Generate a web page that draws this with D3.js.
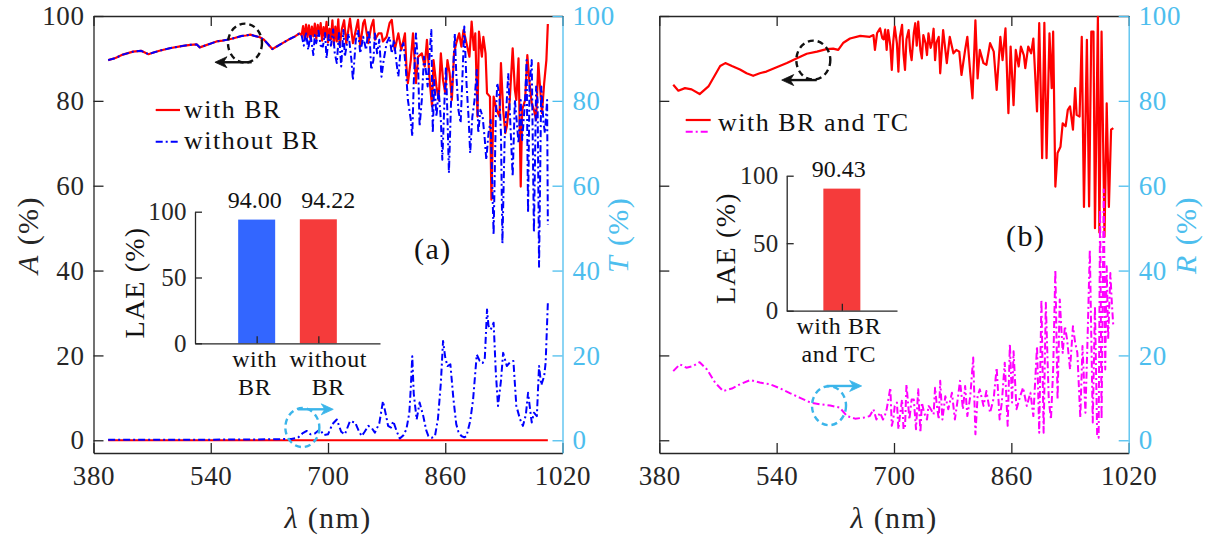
<!DOCTYPE html>
<html>
<head>
<meta charset="utf-8">
<script src="https://cdn.jsdelivr.net/npm/d3@7"></script>
<style>
  html, body { margin: 0; padding: 0; background: #fff; }
  svg text { font-family: "Liberation Serif", "DejaVu Serif", serif; }
</style>
</head>
<body>
<svg id="chart" width="1222" height="536" font-family="Liberation Serif, DejaVu Serif, serif"></svg>
<script>
// ---------- tick values ----------
const lambdaTicks = [380, 540, 700, 860, 1020];
const percentTicks = [0, 20, 40, 60, 80, 100];
const laeTicks = [0, 50, 100];

// ---------- panel (a): absorption A, shared smooth segment (both curves coincide) ----------
const lamA0 = [400, 410, 420, 434, 445, 455, 462, 470, 484, 500, 512, 521, 525, 530, 540, 548, 556, 562, 570, 576, 582, 588, 594, 600, 607, 612, 618, 624, 630, 638, 648, 655, 661];
const absA0 = [89.6, 90.1, 90.9, 91.6, 91.8, 91.0, 91.4, 91.8, 92.4, 92.9, 93.2, 93.3, 92.6, 92.9, 93.5, 94.0, 94.2, 94.4, 94.7, 95.0, 95.3, 95.4, 95.6, 95.3, 95.0, 94.5, 93.4, 92.2, 92.8, 93.6, 94.6, 95.2, 95.9];

// panel (a): A with BR, oscillating part
const lamWithBR = [664, 666, 668, 670, 672, 674, 676, 678, 680, 682, 684, 686, 688, 690, 692, 694, 696, 698, 700, 702, 704, 706, 708, 710, 712, 714, 716,
  719, 722, 725, 730, 734, 737, 741, 744, 748, 750, 755, 759, 762, 764, 769, 773, 775, 780, 784, 787, 789, 791, 796, 800, 805, 807, 809, 813, 816, 820,
  823, 828, 832, 835, 839, 842, 844, 848, 851, 854, 857, 860, 863, 866, 869, 872, 875, 879, 882, 885, 889, 893, 896, 899, 901, 904, 906, 910, 912, 915,
  917, 921, 923, 926, 930, 934, 936, 939, 942, 944, 948, 952, 955, 957, 960, 963, 965, 969, 972, 975, 978, 981, 984, 987, 990, 992, 995, 998, 1000];
const absWithBR = [95.5, 97.6, 94.8, 98.0, 95.0, 97.8, 94.5, 97.5, 95.2, 98.2, 94.6, 97.9, 95.5, 98.3, 94.2, 97.4, 95.0, 98.6, 93.8, 97.0, 94.5, 99.0, 93.2, 97.5, 94.0, 99.2, 93.0,
  97.0, 99.0, 93.5, 99.4, 93.6, 95.9, 99.1, 92.8, 98.3, 99.1, 93.6, 97.5, 99.1, 94.4, 95.9, 95.9, 94.0, 95.1, 98.3, 99.1, 95.9, 92.0, 95.9, 92.0, 95.9, 88.1, 84.2, 89.6, 95.9, 84.2,
  90.4, 91.2, 88.1, 94.4, 84.2, 78.7, 89.6, 83.4, 80.2, 91.2, 84.9, 81.8, 89.6, 86.5, 80.2, 91.2, 93.6, 95.9, 92.8, 96.7, 93.6, 90.4, 98.7, 92.0, 95.9, 76.3, 96.3, 90.4, 95.1, 91.2,
  81.8, 81.0, 56.7, 81.0, 77.9, 76.3, 88.9, 77.9, 72.4, 74.0, 80.2, 92.4, 82.6, 80.2, 90.0, 59.8, 77.9, 80.2, 90.8, 84.2, 79.4, 77.9, 75.5, 88.9, 81.8, 77.1, 84.2, 89.6, 98.1];

// panel (a): A without BR, oscillating part
const lamWithoutBR = [664, 667, 670, 673, 676, 680, 682, 684, 687, 690, 693, 696, 698, 701, 704, 707, 709, 712, 715, 718,
  721, 723, 728, 732, 734, 738, 741, 744, 748, 752, 755, 757, 759, 762, 764, 767, 770, 773, 776, 780, 784, 787, 790, 793, 796, 799,
  803, 806, 809, 813, 815, 817, 820, 823, 825, 828, 831, 834, 836, 839, 841, 843, 845, 848, 851, 854, 856, 859, 861, 863, 865, 868,
  871, 873, 875, 878, 881, 884, 886, 889, 892, 894, 897, 900, 903, 905, 908, 911, 914, 916, 919, 922, 924, 926, 929, 931, 934, 936,
  938, 941, 944, 946, 949, 952, 955, 957, 960, 963, 965, 969, 971, 973, 975, 978, 981, 984, 986, 988, 991, 994, 996, 999, 1000];
const absWithoutBR = [95.5, 93.0, 96.2, 92.0, 95.8, 90.8, 95.5, 93.6, 96.5, 93.0, 92.8, 96.0, 90.0, 95.5, 93.0, 96.8, 91.5, 88.9, 96.0, 88.1,
  96.7, 90.4, 95.9, 89.6, 84.9, 94.4, 96.7, 91.2, 95.1, 92.0, 96.7, 94.4, 87.3, 89.6, 95.9, 91.2, 94.4, 85.7, 89.6, 93.6, 95.1, 91.2, 94.4, 89.6, 85.7, 92.0,
  93.6, 88.1, 80.2, 75.5, 71.6, 84.2, 95.9, 88.1, 74.0, 80.2, 90.4, 86.5, 83.4, 92.0, 96.7, 72.4, 84.9, 76.3, 82.6, 75.5, 66.1, 80.2, 88.1, 76.3, 63.0, 80.2,
  88.1, 95.9, 86.5, 77.9, 74.8, 88.1, 97.5, 84.2, 75.5, 67.7, 76.3, 80.2, 87.3, 72.4, 77.9, 76.3, 70.8, 66.1, 72.4, 75.5, 61.4, 48.5, 76.3, 84.2, 81.0, 72.4,
  46.4, 70.8, 80.2, 86.5, 74.0, 62.2, 80.2, 76.3, 70.0, 80.2, 70.8, 80.2, 89.6, 53.6, 84.2, 89.6, 49.0, 83.4, 80.2, 40.9, 83.4, 75.1, 72.4, 80.2, 50.8];

// panel (a): transmission T
const lamTransWithBR = [400, 1000];
const transWithBR = [0, 0];
const lamTransWithoutBR = [400, 500, 600, 650, 659, 665, 671, 676, 682, 689, 694, 700, 706, 712, 718, 723, 730, 737, 742, 746, 750, 755, 760, 764, 770, 775, 779, 782, 786, 789,
  794, 798, 803, 807, 811, 813, 815, 817, 821, 825, 830, 834, 837, 842, 846, 850, 854, 857, 860, 863, 867, 871, 875, 878, 882, 886, 889, 894, 898, 903, 907, 911, 914,
  917, 919, 922, 926, 929, 932, 936, 939, 944, 948, 953, 957, 962, 966, 970, 973, 978, 981, 985, 988, 991, 995, 997, 1000];
const transWithoutBR = [0.1, 0.1, 0.2, 0.3, 0.6, 1.6, 2.2, 1.4, 1.6, 2.6, 1.2, 1.4, 3.8, 4.9, 2.0, 1.4, 4.5, 4.2, 2.2, 1.0, 2.0, 3.4, 2.8, 1.8, 4.0, 9.2, 6.0, 3.4, 3.0, 4.5,
  2.0, 0.4, 1.2, 2.6, 6.5, 12.5, 19.8, 11.0, 4.9, 8.9, 5.7, 2.4, 1.0, 0.6, 1.0, 5.0, 13.5, 23.4, 19.5, 17.5, 17.9, 10.0, 3.8, 2.0, 1.0, 0.7, 1.0, 4.5, 9.6, 20.2, 18.7, 18.2, 19.4,
  30.8, 27.0, 26.1, 27.7, 16.0, 8.1, 14.0, 20.6, 17.5, 18.3, 18.7, 8.1, 5.0, 3.4, 6.0, 11.2, 4.2, 6.5, 5.7, 17.5, 13.0, 15.1, 18.3, 32.4];

// ---------- panel (b): with BR and TC ----------
const lamB0 = [399, 406, 415, 424, 435, 447, 456, 463, 470, 479, 490, 499, 508, 517, 526, 540, 554, 567, 581, 595, 608, 617, 624, 631, 640, 654, 667, 672];
const absB0 = [83.8, 82.4, 83.0, 82.7, 81.6, 83.4, 86.1, 88.2, 88.9, 88.2, 87.4, 86.5, 85.9, 86.5, 86.9, 87.9, 88.9, 90.0, 91.1, 91.6, 92.2, 92.3, 92.0, 93.7, 94.7, 95.3, 95.1, 95.5];
const lamB1 = [674, 677, 681, 684, 686, 688, 690, 692, 695, 697, 699, 701, 704, 706, 708, 711, 713, 715, 717, 720, 722, 724, 727, 729, 731, 733, 736, 738, 740, 743, 745, 747, 750, 752,
  754, 756, 758, 761, 763, 767, 772, 776, 781, 785, 789, 792, 797, 800, 804, 807, 811, 814, 817, 822, 826, 831, 836, 840, 845, 848, 852, 856, 859, 863, 866, 870, 873, 877,
  879, 883, 887, 890, 895, 898, 902, 905, 908, 912, 915, 917, 920, 923, 927, 930, 934, 937, 940, 944, 947, 949, 953, 956, 959, 963, 966, 969, 972, 974, 978, 980, 983, 987, 990, 993, 996, 999];
const absB1 = [92.0, 96.0, 97.1, 94.8, 94.5, 96.8, 92.0, 96.7, 93.0, 87.3, 94.0, 97.5, 93.5, 86.9, 95.0, 97.9, 91.0, 87.3, 94.5, 96.7, 91.8, 89.6, 96.0, 98.3, 93.0, 98.7, 92.0, 90.0, 95.5, 93.6, 90.8, 95.9, 92.5, 94.0,
  97.0, 89.6, 93.8, 95.1, 86.5, 96.7, 88.9, 95.1, 91.2, 92.0, 91.6, 86.1, 92.0, 95.1, 86.5, 80.6, 99.0, 85.3, 92.0, 88.9, 88.5, 93.6, 91.6, 82.6, 95.1, 89.6, 97.1, 77.1, 92.8, 79.0, 92.0, 88.1, 92.8, 90.8,
  87.7, 92.8, 91.2, 94.7, 77.5, 98.3, 66.5, 98.4, 66.5, 95.9, 83.0, 96.3, 59.8, 67.7, 69.2, 74.7, 74.0, 77.9, 78.7, 73.2, 83.0, 76.7, 76.3, 95.1, 55.0, 94.4, 55.1, 96.3, 96.3, 50.0, 99.8, 49.0, 96.3, 48.0, 79.4, 55.0, 73.2, 73.6];

const lamR0 = [399, 408, 417, 426, 435, 445, 456, 467, 479, 490, 504, 517, 531, 545, 558, 572, 586, 599, 613, 626, 636, 647, 658, 667, 672];
const reflR0 = [16.3, 17.9, 17.1, 17.5, 18.4, 16.7, 13.6, 11.6, 12.2, 13.2, 14.2, 13.6, 13.2, 12.2, 11.1, 10.0, 8.9, 8.5, 8.2, 7.7, 5.7, 5.1, 5.3, 5.7, 7.3];
const lamR1 = [676, 681, 685, 688, 690, 695, 697, 699, 701, 704, 706, 708, 711, 713, 715, 717, 721, 724, 727, 729, 730, 733, 736, 738, 740, 742, 745, 747, 749, 754, 756, 758, 761,
  763, 766, 770, 774, 779, 783, 786, 790, 794, 797, 800, 804, 808, 811, 814, 817, 822, 826, 831, 836, 840, 844, 847, 851, 855, 858, 861, 863, 867, 872, 876, 881, 886, 890,
  895, 898, 901, 904, 907, 911, 914, 917, 920, 923, 926, 930, 933, 936, 940, 944, 947, 950, 954, 957, 961, 964, 967, 971, 974, 977, 979, 981, 983, 986, 988, 990, 992, 995, 997, 999];
const reflR1 = [4.9, 6.5, 4.9, 6.1, 7.3, 12.4, 3.4, 4.9, 8.1, 8.9, 2.6, 5.7, 9.6, 2.6, 3.0, 13.2, 4.9, 9.6, 9.6, 4.9, 2.6, 12.0, 1.8, 8.9, 7.3, 6.1, 4.9, 8.1, 7.7, 6.1, 12.4, 8.9, 4.9,
  14.0, 4.9, 10.4, 7.3, 11.2, 4.9, 8.5, 14.0, 7.3, 12.8, 5.7, 10.4, 19.5, 1.4, 10.4, 12.0, 8.1, 11.6, 6.5, 10.0, 17.1, 4.9, 8.9, 18.3, 3.4, 22.6, 8.9, 21.0, 7.3, 10.4, 12.4, 8.1, 11.2, 5.7,
  22.2, 1.8, 33.2, 1.8, 32.4, 9.6, 4.9, 16.7, 40.2, 9.6, 33.2, 20.6, 26.9, 23.8, 16.7, 26.9, 23.0, 20.6, 5.3, 22.2, 6.5, 24.6, 44.9, 4.2, 31.6, 1.0, 0.6, 54.4, 4.9, 59.1, 16.7, 41.0, 23.8, 39.4, 32.4, 26.9];

// ---------- insets: light-extraction efficiency ----------
const laeLabelsA = [["with", "BR"], ["without", "BR"]];
const laeValuesA = [94.00, 94.22];
const laeLabelsB = [["with BR", "and TC"]];
const laeValuesB = [90.43];

// ---------- drawing ----------
const FONT = "'Liberation Serif', 'DejaVu Serif', serif";
const svg = d3.select("#chart");
const INK = "#262626", CYAN = "#4DBEEE";
const RED = "#FF0000", BLUE = "#0000FF", MAGENTA = "#FF00FF";
const TOP = 16, BOTTOM = 453;

const y = d3.scaleLinear().domain([-3, 100]).range([BOTTOM, TOP]);
const xA = d3.scaleLinear().domain([380, 1020]).range([93.5, 562.5]);
const xB = d3.scaleLinear().domain([380, 1020]).range([659.3, 1128.7]);

function styleAxis(g, color, size, spacing) {
  g.attr("font-size", size).attr("font-family", FONT);
  g.select(".domain").attr("stroke", color).attr("stroke-width", 1.3);
  g.selectAll(".tick line").attr("stroke", color).attr("stroke-width", 1.3);
  g.selectAll(".tick text").attr("fill", color).style("font-family", FONT)
    .attr("letter-spacing", spacing || 0);
}

function frame(x, showLeftLabels) {
  const [x0, x1] = x.range();
  const g = svg.append("g");
  styleAxis(g.append("g").attr("transform", `translate(0,${BOTTOM})`)
    .call(d3.axisBottom(x).tickValues(lambdaTicks).tickSize(-10).tickSizeOuter(0).tickPadding(13).tickFormat(d3.format("d"))), INK, 27, 0.6);
  styleAxis(g.append("g").attr("transform", `translate(0,${TOP})`)
    .call(d3.axisTop(x).tickValues(lambdaTicks).tickSize(-10).tickSizeOuter(0).tickFormat("")), INK, 27);
  styleAxis(g.append("g").attr("transform", `translate(${x0},0)`)
    .call(d3.axisLeft(y).tickValues(percentTicks).tickSize(-10).tickSizeOuter(0).tickPadding(9)
      .tickFormat(showLeftLabels ? d3.format("d") : "")), INK, 27, 0.6);
  styleAxis(g.append("g").attr("transform", `translate(${x1},0)`)
    .call(d3.axisRight(y).tickValues(percentTicks).tickSize(-10).tickSizeOuter(0).tickPadding(10).tickFormat(d3.format("d"))), CYAN, 27, 0.6);
}

function series(lam, val) { return d3.zip(lam, val); }
function drawLine(x, data, color, dashed) {
  const line = d3.line().x(d => x(d[0])).y(d => y(d[1]));
  svg.append("path").datum(data)
    .attr("d", line)
    .attr("fill", "none")
    .attr("stroke", color)
    .attr("stroke-width", dashed ? 2 : 2.2)
    .attr("stroke-linejoin", "round")
    .attr("stroke-dasharray", dashed ? "7,3,2,3" : null);
}

function addText(x, y0, size, str, spacing) {
  return svg.append("text").attr("x", x).attr("y", y0).attr("font-size", size)
    .attr("fill", "#111").attr("letter-spacing", spacing || 0)
    .style("font-family", FONT).text(str);
}

function axisTitle(tx, ty, rotate, italicPart, rest, color) {
  const t = svg.append("text")
    .attr("transform", `translate(${tx},${ty})` + (rotate ? " rotate(-90)" : ""))
    .attr("text-anchor", "middle")
    .attr("font-size", 30)
    .attr("letter-spacing", 1.4)
    .style("font-family", FONT)
    .attr("fill", color);
  t.append("tspan").attr("font-style", "italic").text(italicPart);
  t.append("tspan").text(rest);
}

// circle + arrow annotation (positions in data units)
function annotate(x, cx, cy, ax0, ax1, ay, color) {
  svg.append("ellipse")
    .attr("cx", x(cx)).attr("cy", y(cy)).attr("rx", 17).attr("ry", 19.5)
    .attr("fill", "none").attr("stroke", color).attr("stroke-width", 2.4)
    .attr("stroke-dasharray", "6,4");
  const px0 = x(ax0), px1 = x(ax1), py = y(ay);
  const dir = Math.sign(px1 - px0);
  svg.append("line")
    .attr("x1", px0).attr("y1", py).attr("x2", px1 - dir * 6).attr("y2", py)
    .attr("stroke", color).attr("stroke-width", 2.4);
  svg.append("path")
    .attr("d", `M${px1},${py} L${px1 - dir * 12},${py - 5.5} L${px1 - dir * 8.5},${py} L${px1 - dir * 12},${py + 5.5} Z`)
    .attr("fill", color).attr("stroke", color).attr("stroke-width", 0.8);
}

function legendRow(x0, x1, ly, color, dashed) {
  svg.append("line").attr("x1", x0).attr("x2", x1).attr("y1", ly).attr("y2", ly)
    .attr("stroke", color).attr("stroke-width", dashed ? 2 : 2.2)
    .attr("stroke-dasharray", dashed ? "7,3,2,3" : null);
}

// bar inset; labelShift nudges each category's text sideways
function inset(x0, x1, yb, yt, labels, values, colors, ylabelX, labelShift) {
  const n = values.length;
  const bx = d3.scaleLinear().domain([0, n + 1]).range([x0, x1]);
  const by = d3.scaleLinear().domain([0, 100]).range([yb, yt]);
  const barW = 37;
  const g = svg.append("g");
  g.selectAll("rect").data(values).join("rect")
    .attr("x", (d, i) => bx(i + 1) - barW / 2)
    .attr("width", barW)
    .attr("y", d => by(d))
    .attr("height", d => by(0) - by(d))
    .attr("fill", (d, i) => colors[i]);
  g.selectAll("text.val").data(values).join("text").attr("class", "val")
    .attr("x", (d, i) => bx(i + 1) + labelShift[i])
    .attr("y", d => by(d) - 11.5)
    .attr("text-anchor", "middle").attr("font-size", 24).attr("fill", "#111")
    .style("font-family", FONT)
    .text(d => d.toFixed(2));
  styleAxis(g.append("g").attr("transform", `translate(${x0},0)`)
    .call(d3.axisLeft(by).tickValues(laeTicks).tickSize(-7).tickSizeOuter(0).tickPadding(8)), INK, 25, 0.4);
  styleAxis(g.append("g").attr("transform", `translate(0,${yb})`)
    .call(d3.axisBottom(bx).tickValues(d3.range(1, n + 1)).tickSize(-7).tickSizeOuter(0).tickFormat("")), INK, 25);
  labels.forEach((lines, i) => {
    lines.forEach((s, k) => {
      g.append("text").attr("x", bx(i + 1) + labelShift[i]).attr("y", yb + 23.5 + k * 28)
        .attr("text-anchor", "middle").attr("font-size", 24).attr("fill", "#111")
        .attr("letter-spacing", 0.6)
        .style("font-family", FONT).text(s);
    });
  });
  g.append("text")
    .attr("transform", `translate(${ylabelX},${(yb + yt) / 2 + 5}) rotate(-90)`)
    .attr("text-anchor", "middle").attr("font-size", 28).attr("fill", "#111")
    .attr("letter-spacing", 1.2)
    .style("font-family", FONT)
    .text("LAE (%)");
}

// ----- panel (a) -----
frame(xA, true);
drawLine(xA, series(lamA0.concat(lamWithBR), absA0.concat(absWithBR)), RED, false);
drawLine(xA, series(lamA0.concat(lamWithoutBR), absA0.concat(absWithoutBR)), BLUE, true);
drawLine(xA, series(lamTransWithBR, transWithBR), RED, false);
drawLine(xA, series(lamTransWithoutBR, transWithoutBR), BLUE, true);

annotate(xA, 586.7, 93.6, 595.8, 545.7, 89.1, "#111");
annotate(xA, 665, 3.0, 659, 707.2, 7.3, "#3BB5EA");

legendRow(155.7, 180, 110, RED, false);
legendRow(155.7, 180, 141.7, BLUE, true);
addText(184, 118, 26, "with BR", 1.5);
addText(184, 149, 26, "without BR", 1.5);
addText(414, 259, 30, "(a)", 1.5);

inset(195, 380, 343.3, 211.7, laeLabelsA, laeValuesA, ["#3366FF", "#F53B3B"], 144, [-2, 10]);

axisTitle(38, 235, true, "A", " (%)", INK);
axisTitle(628, 235, true, "T", " (%)", CYAN);
axisTitle(xA(700), 528, false, "λ", " (nm)", INK);

// ----- panel (b) -----
frame(xB, false);
drawLine(xB, series(lamB0.concat(lamB1), absB0.concat(absB1)), RED, false);
drawLine(xB, series(lamR0.concat(lamR1), reflR0.concat(reflR1)), MAGENTA, true);

annotate(xB, 590, 89.6, 594.6, 546.9, 84.9, "#111");
annotate(xB, 611.4, 8.15, 608.2, 655.9, 12.8, "#3BB5EA");

legendRow(685.7, 710.7, 120, RED, false);
legendRow(685.7, 710.7, 131.7, MAGENTA, true);
addText(718, 131, 26, "with BR and TC", 1.5);
addText(1006, 246, 30, "(b)", 1.5);

inset(786.7, 897, 310.7, 175.7, laeLabelsB, laeValuesB, ["#F53B3B"], 735, [-3]);

axisTitle(1196, 235, true, "R", " (%)", CYAN);
axisTitle(xB(700), 528, false, "λ", " (nm)", INK);
</script>
</body>
</html>
